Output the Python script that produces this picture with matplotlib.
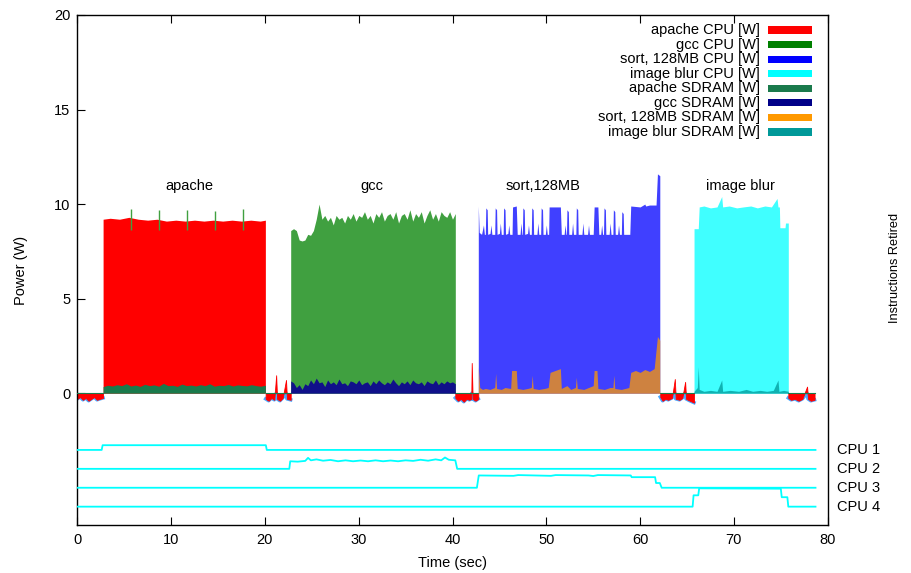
import matplotlib
matplotlib.use("Agg")
import matplotlib.pyplot as plt
from matplotlib.patches import Rectangle
import numpy as np

plt.rcParams['font.family'] = ['Liberation Sans', 'DejaVu Sans']
plt.rcParams['font.size'] = 10.5

# --- power traces (time [s], watts) ---
apache_cpu = [(2.75, 9.2), (3.5, 9.25), (4.5, 9.2), (5.5, 9.3), (6.5, 9.2), (7.5, 9.15),
              (8.5, 9.2), (9.5, 9.1), (10.5, 9.15), (11.5, 9.1), (12.5, 9.15), (13.5, 9.1),
              (14.5, 9.15), (15.5, 9.1), (16.5, 9.15), (17.5, 9.1), (18.5, 9.15), (19.5, 9.1),
              (20.05, 9.15)]
apache_spike_t = [5.7, 8.7, 11.7, 14.7, 17.7]
apache_spike_top = [9.75, 9.7, 9.7, 9.65, 9.75]
apache_sdram = [0.35, 0.42, 0.38, 0.45, 0.4, 0.5, 0.38, 0.43, 0.36, 0.47, 0.4, 0.44, 0.37,
                0.52, 0.4, 0.42, 0.36, 0.48, 0.4, 0.43, 0.38, 0.45, 0.4, 0.5, 0.37, 0.42,
                0.4, 0.46, 0.38, 0.44, 0.41, 0.39, 0.45, 0.4, 0.37, 0.42]

gcc_cpu = [8.6, 8.7, 8.6, 8.1, 8.05, 8.1, 8.4, 8.35, 8.6, 9.2, 10.0, 9.2, 9.4, 9.1, 9.3,
           8.9, 9.4, 9.2, 9.3, 9.0, 9.4, 9.2, 9.5, 9.1, 9.4, 9.3, 9.6, 9.2, 9.4, 9.0, 9.5,
           9.3, 9.6, 9.1, 9.4, 9.5, 9.2, 9.6, 9.0, 9.4, 9.5, 9.2, 9.7, 9.1, 9.5, 9.3, 9.6,
           9.0, 9.4, 9.7, 9.2, 9.5, 9.1, 9.6, 9.4, 9.3, 9.6, 9.2, 9.5]
gcc_sdram = [0.65, 0.55, 0.3, 0.45, 0.2, 0.5, 0.4, 0.7, 0.5, 0.8, 0.55, 0.6, 0.35, 0.7, 0.5,
             0.6, 0.45, 0.75, 0.5, 0.55, 0.4, 0.65, 0.6, 0.5, 0.7, 0.45, 0.55, 0.6, 0.4,
             0.65, 0.5, 0.7, 0.55, 0.45, 0.6, 0.5, 0.75, 0.55, 0.4, 0.6, 0.5, 0.65, 0.45,
             0.7, 0.55, 0.5, 0.6, 0.4, 0.65, 0.55, 0.5, 0.7, 0.45, 0.6, 0.5, 0.65, 0.55,
             0.6, 0.5]
gcc_start, gcc_end = 22.75, 40.3
apache_start, apache_end = 2.75, 20.05

sort_cpu = [(42.75, 9.9), (42.85, 8.5), (43.1, 8.4), (43.3, 8.9), (43.4, 8.4), (43.5, 8.4),
            (43.55, 9.8), (43.7, 9.7), (43.75, 8.4), (44.0, 8.45), (44.1, 8.9), (44.2, 8.4),
            (44.5, 8.4), (44.55, 9.8), (44.7, 9.7), (44.75, 8.4), (45.0, 8.45), (45.1, 9.0),
            (45.2, 8.4), (45.4, 8.4), (45.45, 9.8), (45.6, 9.7), (45.65, 8.4), (45.9, 8.45),
            (46.0, 8.9), (46.1, 8.4), (46.35, 8.4), (46.4, 9.85), (46.8, 9.9), (46.9, 8.4),
            (47.2, 8.4), (47.3, 9.0), (47.4, 8.4), (47.45, 8.4), (47.5, 9.8), (47.65, 9.7),
            (47.7, 8.4), (48.0, 8.45), (48.1, 8.9), (48.2, 8.4), (48.4, 8.4), (48.45, 9.8),
            (48.6, 9.7), (48.65, 8.4), (49.0, 8.4), (49.1, 9.0), (49.2, 8.4), (49.4, 8.4),
            (49.45, 9.8), (49.6, 9.7), (49.65, 8.4), (49.9, 8.4), (50.0, 8.9), (50.1, 8.4),
            (50.25, 8.4), (50.3, 9.85), (51.5, 9.85), (51.6, 8.4), (51.9, 8.4), (52.0, 8.9),
            (52.1, 8.4), (52.15, 8.4), (52.2, 9.7), (52.35, 9.6), (52.4, 8.4), (52.7, 8.4),
            (52.8, 9.0), (52.9, 8.4), (53.15, 8.4), (53.2, 9.8), (53.35, 9.7), (53.4, 8.4),
            (53.8, 8.4), (53.9, 9.0), (54.0, 8.4), (54.4, 8.4), (54.5, 8.9), (54.6, 8.4),
            (55.0, 8.4), (55.1, 9.85), (55.5, 9.85), (55.6, 8.4), (55.8, 8.4), (55.9, 8.9),
            (56.0, 8.4), (56.1, 8.4), (56.15, 9.8), (56.3, 9.7), (56.35, 8.4), (56.7, 8.4),
            (56.8, 9.0), (56.9, 8.4), (57.1, 8.4), (57.15, 9.7), (57.3, 9.6), (57.35, 8.4),
            (57.6, 8.4), (57.7, 8.9), (57.8, 8.4), (58.0, 8.4), (58.05, 9.6), (58.2, 9.5),
            (58.25, 8.4), (58.9, 8.4), (59.0, 9.9), (60.0, 9.85), (60.5, 10.0), (60.6, 9.9),
            (61.0, 9.95), (61.7, 9.95), (61.85, 11.6), (62.1, 11.5)]
sort_sdram = [(42.75, 1.4), (42.9, 0.3), (43.2, 0.2), (43.5, 0.25), (44.0, 0.2), (44.5, 0.3),
              (44.6, 1.05), (44.7, 0.25), (45.2, 0.2), (45.6, 0.3), (46.2, 0.25), (46.3, 1.2),
              (46.8, 1.2), (46.9, 0.25), (47.5, 0.2), (48.0, 0.25), (48.4, 0.3), (48.5, 0.95),
              (48.6, 0.25), (49.2, 0.2), (49.8, 0.25), (50.2, 0.3), (50.4, 1.1), (51.5, 1.3),
              (51.6, 0.25), (52.2, 0.4), (52.6, 0.2), (53.1, 0.3), (53.2, 0.85), (53.3, 0.25),
              (54.0, 0.2), (54.5, 0.3), (55.0, 0.4), (55.1, 1.2), (55.4, 1.2), (55.5, 0.25),
              (56.2, 0.2), (56.8, 0.3), (57.1, 0.3), (57.2, 0.95), (57.3, 0.25), (58.0, 0.2),
              (58.8, 0.3), (59.0, 1.1), (59.5, 1.2), (60.0, 1.1), (60.5, 1.25), (61.0, 1.15),
              (61.5, 1.3), (61.85, 3.0), (62.1, 2.8)]

blur_cpu = [(65.75, 8.7), (66.2, 8.7), (66.3, 9.85), (66.8, 9.9), (67.5, 9.8), (68.2, 9.85),
            (68.7, 10.4), (68.8, 9.85), (69.5, 9.9), (70.3, 9.8), (71.0, 9.85), (71.8, 9.9),
            (72.5, 9.8), (73.3, 9.9), (74.0, 9.85), (74.6, 10.3), (74.7, 9.85), (74.85, 9.85),
            (74.9, 8.75), (75.45, 8.75), (75.5, 9.0), (75.8, 9.0)]
blur_sdram = [(65.75, 0.1), (66.1, 0.3), (66.2, 1.4), (66.3, 0.2), (66.8, 0.1), (67.5, 0.15),
              (68.2, 0.1), (68.7, 0.7), (68.8, 0.1), (69.6, 0.15), (70.5, 0.1), (71.3, 0.2),
              (72.0, 0.1), (72.8, 0.15), (73.5, 0.1), (74.2, 0.15), (74.7, 0.7), (74.8, 0.1),
              (75.3, 0.15), (75.8, 0.1)]

idle_power = [
    [(0.0, -0.3), (0.3, -0.2), (0.6, -0.35), (0.9, -0.25), (1.2, -0.4), (1.5, -0.3),
     (1.8, -0.2), (2.1, -0.35), (2.4, -0.3), (2.75, -0.25)],
    [(20.08, -0.3), (20.4, -0.4), (20.7, -0.25), (21.0, -0.35), (21.2, 0.95), (21.3, -0.3),
     (21.6, -0.4), (21.9, -0.25), (22.25, 0.7), (22.35, -0.3), (22.75, -0.35)],
    [(40.3, -0.25), (40.6, -0.4), (40.9, -0.3), (41.2, -0.45), (41.5, -0.3), (41.8, -0.35),
     (42.0, -0.3), (42.05, 1.6), (42.15, -0.3), (42.45, -0.4), (42.75, -0.3)],
    [(62.15, -0.2), (62.4, -0.4), (62.7, -0.3), (63.0, -0.35), (63.4, -0.25), (63.7, 0.75),
     (63.8, -0.3), (64.2, -0.35), (64.5, -0.25), (64.8, 0.6), (64.9, -0.3), (65.3, -0.4),
     (65.75, -0.5)],
    [(75.8, -0.25), (76.1, -0.35), (76.5, -0.3), (76.9, -0.4), (77.3, -0.3), (77.8, 0.35),
     (77.9, -0.3), (78.2, -0.4), (78.6, -0.35)],
]

# --- instructions retired per CPU (offset traces) ---
cpu_names = ["CPU 1", "CPU 2", "CPU 3", "CPU 4"]
cpu_base = [-3, -4, -5, -6]
cpu1 = [(0, -3), (2.6, -3), (2.7, -2.75), (20.1, -2.75), (20.2, -3), (78.7, -3)]
cpu2 = [(0, -4), (22.6, -4), (22.7, -3.6), (23.5, -3.62), (24.3, -3.58), (24.6, -3.42),
        (24.9, -3.55), (25.5, -3.5), (26.2, -3.57), (27.0, -3.53), (27.8, -3.6), (28.6, -3.55),
        (29.4, -3.6), (30.2, -3.56), (31.0, -3.6), (31.8, -3.55), (32.6, -3.6), (33.4, -3.56),
        (34.2, -3.6), (35.0, -3.55), (35.8, -3.58), (36.6, -3.52), (37.4, -3.57), (38.2, -3.5),
        (38.8, -3.55), (39.2, -3.4), (39.6, -3.52), (40.3, -3.55), (40.5, -4), (78.7, -4)]
cpu3 = [(0, -5), (42.6, -5), (42.8, -4.35), (46.5, -4.37), (47.0, -4.33), (50.5, -4.37),
        (51.0, -4.33), (54.5, -4.35), (55.0, -4.38), (55.5, -4.33), (59.0, -4.35),
        (59.1, -4.44), (61.6, -4.44), (61.7, -4.75), (62.1, -4.75), (62.3, -5), (78.7, -5)]
cpu4 = [(0, -6), (65.6, -6), (65.7, -5.4), (66.2, -5.4), (66.3, -5.03), (75.0, -5.05),
        (75.1, -5.5), (75.7, -5.5), (75.8, -6), (78.7, -6)]

workloads = ["apache", "gcc", "sort,128MB", "image blur"]
workload_x = [12.0, 31.4, 49.6, 70.7]

legend_labels = ["apache CPU [W]", "gcc CPU [W]", "sort, 128MB CPU [W]", "image blur CPU [W]",
                 "apache SDRAM [W]", "gcc SDRAM [W]", "sort, 128MB SDRAM [W]",
                 "image blur SDRAM [W]"]
legend_colors = ["#ff0000", "#008000", "#0000ff", "#00ffff",
                 "#1a7a4c", "#000088", "#ff9900", "#009999"]


def xy(pairs):
    a = np.array(pairs, dtype=float)
    return a[:, 0], a[:, 1]


W, H = 911, 573
fig = plt.figure(figsize=(W / 100, H / 100), dpi=100)
ax = fig.add_axes([77.3 / W, 1 - 525 / H, 750.4 / W, 510 / H])

# idle stretches
for seg in idle_power:
    t, v = xy(seg)
    ax.plot(t, np.minimum(v, 0), color="#4aa8ff", lw=2.5, zorder=1)
    ax.fill_between(t, 0, v, color="#ff0000", lw=0.6, edgecolor="#ff0000", zorder=2)
    ax.plot(t, np.zeros_like(t), color="#1a7a4c", lw=0.8, zorder=3)

# apache
t, v = xy(apache_cpu)
ax.fill_between(t, 0, v, color="#ff0000", lw=0, zorder=2)
ax.vlines(apache_spike_t, 8.65, apache_spike_top, color="#40a040", lw=1.0, zorder=3)
t = np.linspace(apache_start, apache_end, len(apache_sdram))
ax.fill_between(t, 0, apache_sdram, color="#1a7a4c", lw=0, zorder=3)

# gcc
t = np.linspace(gcc_start, gcc_end, len(gcc_cpu))
ax.fill_between(t, 0, gcc_cpu, color="#008000", alpha=0.75, lw=0, zorder=2)
t = np.linspace(gcc_start, gcc_end, len(gcc_sdram))
ax.fill_between(t, 0, gcc_sdram, color="#10108a", lw=0, zorder=3)

# sort
t, v = xy(sort_cpu)
ax.fill_between(t, 0, v, color="#0000ff", alpha=0.75, lw=0, zorder=2)
t, v = xy(sort_sdram)
ax.fill_between(t, 0, v, color="#ff9900", alpha=0.75, lw=0, zorder=3)

# image blur
t, v = xy(blur_cpu)
ax.fill_between(t, 0, v, color="#00ffff", alpha=0.75, lw=0, zorder=2)
t, v = xy(blur_sdram)
ax.fill_between(t, 0, v, color="#009999", alpha=0.75, lw=0, zorder=3)

# instructions retired traces
for name, base, trace in zip(cpu_names, cpu_base, [cpu1, cpu2, cpu3, cpu4]):
    t, v = xy(trace)
    ax.plot(t, v, color="#00ffff", lw=1.3, zorder=4)
    ax.text(81.0, base, name, va="center", ha="left", clip_on=False)

for name, x in zip(workloads, workload_x):
    ax.text(x, 10.95, name, ha="center", va="center")

ax.set_xlim(0, 80)
ax.set_ylim(-6.97, 20)
ax.set_xticks(range(0, 81, 10))
ax.set_yticks([0, 5, 10, 15, 20])
ax.tick_params(direction="in", length=6, top=True, right=False, width=0.8)
ax.tick_params(axis="x", pad=6)
ax.tick_params(axis="y", pad=5)
for s in ax.spines.values():
    s.set_linewidth(1.0)

ax.set_xlabel("Time (sec)")
ax.xaxis.set_label_coords(0.5, -0.06)
ax.set_ylabel("Power (W)")
ax.yaxis.set_label_coords(-0.066, 0.5)
fig.text(895 / W, 1 - 268 / H, "Instructions Retired", rotation=90, fontsize=9.2,
         ha="center", va="center")

# key, right-aligned text with colour bar after it
for i, (lab, col) in enumerate(zip(legend_labels, legend_colors)):
    yc = 1 - (30 + i * 14.57 - 15) / 510
    ax.text(0.9098, yc, lab, transform=ax.transAxes, ha="right", va="center")
    ax.add_patch(Rectangle((0.9203, yc - 0.0069), 0.0586, 0.0138, transform=ax.transAxes,
                           facecolor=col, edgecolor="none", zorder=5))

fig.savefig("out.png", dpi=100)
